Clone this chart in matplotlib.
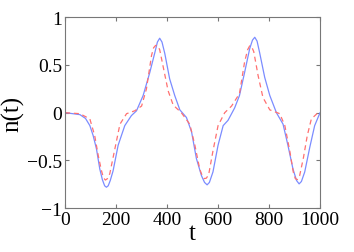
import matplotlib
matplotlib.use("Agg")
import matplotlib.pyplot as plt

# blue solid curve
t_blue = [0, 30, 58, 80, 97, 110, 123, 136, 146, 155, 162, 169, 177, 188, 208,
          234, 260, 280, 306, 332, 352, 362, 371, 380, 391, 410, 430, 450, 476,
          496, 515, 535, 547, 557, 566, 580, 600, 620, 639, 665, 684, 704, 724,
          735, 744, 753, 763, 783, 803, 829, 855, 874, 894, 908, 918, 927, 940,
          960, 979, 1000]
n_blue = [0, -0.01, -0.02, -0.06, -0.135, -0.24, -0.38, -0.59, -0.7, -0.765,
          -0.78, -0.765, -0.71, -0.61, -0.34, -0.135, -0.03, 0.02, 0.18, 0.42,
          0.63, 0.74, 0.78, 0.74, 0.62, 0.355, 0.18, 0.03, -0.05, -0.2, -0.48,
          -0.66, -0.73, -0.755, -0.73, -0.62, -0.34, -0.135, -0.08, 0.05, 0.18,
          0.42, 0.67, 0.76, 0.79, 0.75, 0.63, 0.37, 0.18, 0.0, -0.12, -0.34,
          -0.59, -0.71, -0.745, -0.72, -0.62, -0.36, -0.135, 0]

# red dashed curve
t_red = [0, 58, 97, 116, 130, 142, 150, 158, 166, 175, 195, 215, 241, 273, 300,
         319, 339, 347, 355, 363, 371, 384, 404, 424, 456, 489, 509, 528, 538,
         546, 554, 563, 580, 600, 626, 653, 684, 704, 716, 724, 732, 740, 757,
         776, 803, 842, 862, 882, 895, 903, 911, 920, 935, 950, 966, 992, 1000]
n_red = [0, -0.01, -0.065, -0.24, -0.45, -0.6, -0.68, -0.705, -0.69, -0.64,
         -0.38, -0.12, -0.01, 0.02, 0.07, 0.25, 0.6, 0.68, 0.705, 0.7, 0.66,
         0.49, 0.23, 0.08, 0.0, -0.12, -0.34, -0.59, -0.66, -0.69, -0.685,
         -0.65, -0.40, -0.135, 0.0, 0.07, 0.2, 0.53, 0.66, 0.70, 0.69, 0.64,
         0.39, 0.16, 0.03, -0.01, -0.135, -0.41, -0.62, -0.69, -0.7, -0.66,
         -0.47, -0.24, -0.065, 0.0, 0.0]

xticks = [0, 200, 400, 600, 800, 1000]
yticks = [-1, -0.5, 0, 0.5, 1]
yticklabels = ["\u22121", "\u22120.5", "0", "0.5", "1"]

plt.rcParams['font.family'] = ['Liberation Serif', 'DejaVu Serif']

fig = plt.figure(figsize=(3.54, 2.53), dpi=100)
ax = fig.add_axes([0.184, 0.173, 0.72, 0.755])

ax.plot(t_blue, n_blue, color='#7b8cff', lw=0.9)
ax.plot(t_red, n_red, color='#ff7070', lw=0.9, ls=(0, (4, 3)))

ax.set_xlim(0, 1000)
ax.set_ylim(-1, 1)
ax.set_xticks(xticks)
ax.set_yticks(yticks)
ax.set_yticklabels(yticklabels)
ax.tick_params(direction='in', top=True, right=True, length=3,
               color='#777777', labelsize=14, pad=2)
for s in ax.spines.values():
    s.set_color('#777777')
    s.set_linewidth(0.8)

ax.set_xlabel('t', fontsize=18, labelpad=-4)
ax.set_ylabel('n(t)', fontsize=18, labelpad=2)

fig.savefig('out.png', dpi=100)
